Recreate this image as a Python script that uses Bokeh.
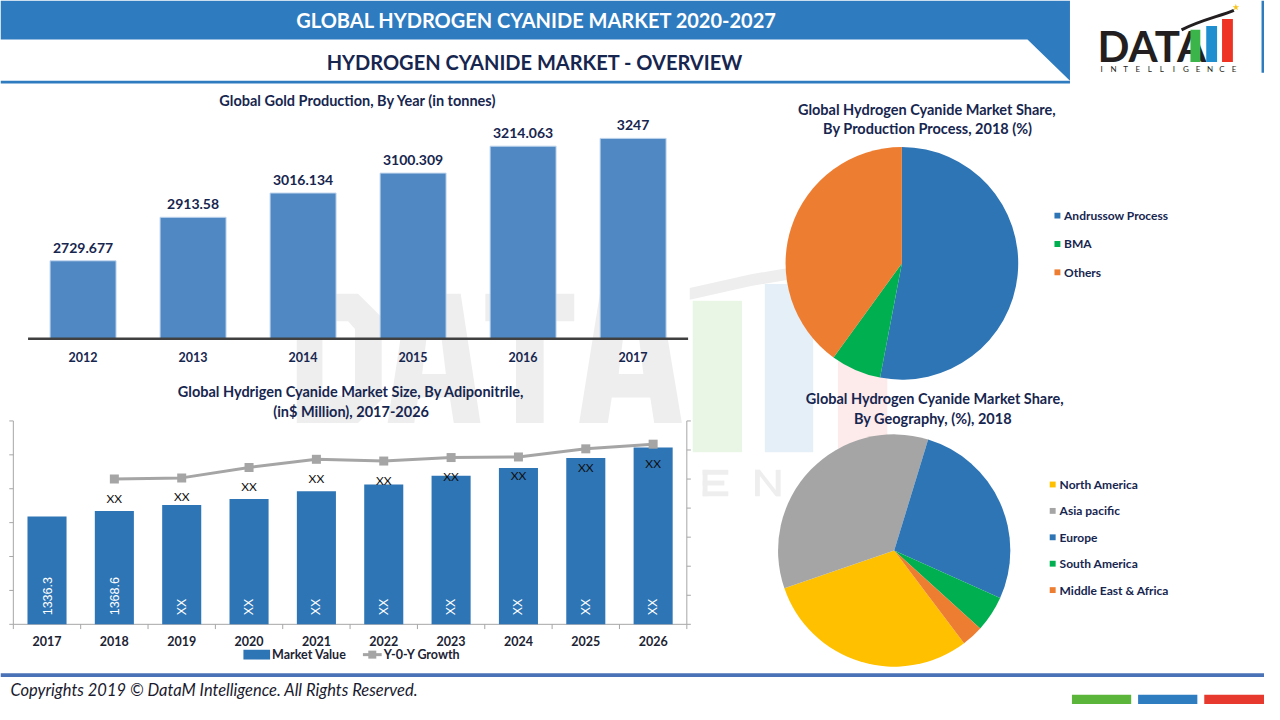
import numpy as np
from bokeh.plotting import figure
from bokeh.models import Range1d
from bokeh.core.properties import value
from bokeh.embed import file_html
from bokeh.resources import INLINE

# ---------------- DATA ----------------
gold_years = ["2012", "2013", "2014", "2015", "2016", "2017"]
gold_tonnes = [2729.677, 2913.58, 3016.134, 3100.309, 3214.063, 3247]
gold_axis_min = 2400

adn_years = ["2017", "2018", "2019", "2020", "2021", "2022", "2023", "2024", "2025", "2026"]
adn_market_value = [1336.3, 1368.6, 1404, 1439, 1485, 1525, 1577, 1623, 1681, 1744]
adn_value_labels = ["1336.3", "1368.6", "XX", "XX", "XX", "XX", "XX", "XX", "XX", "XX"]
adn_yoy_growth = [np.nan, 2.50, 2.52, 2.70, 2.84, 2.81, 2.87, 2.88, 3.02, 3.10]
adn_growth_labels = ["", "XX", "XX", "XX", "XX", "XX", "XX", "XX", "XX", "XX"]
adn_left_ticks = [700, 900, 1100, 1300, 1500, 1700, 1900]
adn_right_ticks = [0, 0.5, 1.0, 1.5, 2.0, 2.5, 3.0, 3.5]

process_names = ["Andrussow Process", "BMA", "Others"]
process_share = [53, 7, 40]
geo_names = ["North America", "Asia pacific", "Europe", "South America", "Middle East & Africa"]
geo_share = [30, 35, 27, 5, 3]

# ---------------- STYLE ----------------
FONT = value("Lato")
NAVY = "#17264f"
HEADER_BLUE = "#2e7bbf"
BAR_TOP = "#4f88c3"
BAR_BOT = "#2e75b6"
GREY_LINE = "#a5a5a5"
process_colors = ["#2e75b6", "#00b050", "#ed7d31"]
geo_colors = ["#ffc000", "#a5a5a5", "#2e75b6", "#00b050", "#ed7d31"]

W, H = 1264, 704
PX0, PX1 = 0, 1280      # reference px at left / right edge of canvas
PY0, PY1 = 720, 0       # reference px at bottom / top edge of canvas


def lin_range(v0, p0, v1, p1, pstart, pend):
    s = (v1 - v0) / (p1 - p0)
    return Range1d(start=v0 + (pstart - p0) * s, end=v0 + (pend - p0) * s)


p = figure(width=W, height=H, x_range=Range1d(PX0, PX1), y_range=Range1d(PY0, PY1),
           min_border=0, toolbar_location=None, output_backend="svg",
           x_axis_type=None, y_axis_type=None, outline_line_color=None)
p.background_fill_color = "white"
p.border_fill_color = "white"

p.extra_x_ranges = {
    "gx": lin_range(0, 83.6, 5, 640.6, PX0, PX1),
    "bx": lin_range(0, 47.1, 9, 660.9, PX0, PX1),
    "p1x": lin_range(0, 912.8, 1, 1030.6, PX0, PX1),
    "p2x": lin_range(0, 905.0, 1, 1022.6, PX0, PX1),
}
p.extra_y_ranges = {
    "gy": lin_range(gold_axis_min, 346, 3247, 141, PY0, PY1),
    "by": lin_range(700, 638, 1900, 430, PY0, PY1),
    "by2": lin_range(0, 638, 3.5, 430, PY0, PY1),
    "p1y": lin_range(0, 268.8, 1, 151.0, PY0, PY1),
    "p2y": lin_range(0, 562.5, 1, 444.9, PY0, PY1),
}

# ---------------- WATERMARK ----------------
WM = "#eeeeee"
wm_letters = [
    [(300, 300), (362, 300), (386, 324), (386, 408), (362, 432), (300, 432)],
    [(412, 300), (466, 300), (486, 432), (459, 432), (455, 406), (423, 406), (419, 432), (392, 432)],
    [(491, 300), (581, 300), (581, 328), (550, 328), (550, 432), (522, 432), (522, 328), (491, 328)],
    [(607, 300), (668, 300), (690, 432), (662, 432), (658, 406), (619, 406), (615, 432), (586, 432)],
]
for poly in wm_letters:
    p.patch([q[0] for q in poly], [q[1] for q in poly], fill_color=WM, line_color=None)
wm_holes = [
    [(326, 328), (352, 328), (359, 336), (359, 396), (352, 404), (326, 404)],
    [(433, 332), (445, 332), (451, 382), (427, 382)],
    [(632, 332), (645, 332), (651, 382), (626, 382)],
]
for poly in wm_holes:
    p.patch([q[0] for q in poly], [q[1] for q in poly], fill_color="white", line_color=None)
p.quad(left=[701, 774, 848], right=[751, 823, 898], top=[307, 290, 275], bottom=[462, 462, 462],
       fill_color=["#e9f6e6", "#e5eff8", "#fdeaea"], line_color=None)
p.patch([698, 760, 830, 880, 880, 830, 760, 698], [294, 280, 268, 262, 274, 280, 292, 306],
        fill_color=WM, line_color=None)
# faint "E N"
p.quad(left=[711, 711, 711, 711], right=[716, 737, 733, 737], top=[480, 480, 491, 502], bottom=[507, 485, 496, 507],
       fill_color=WM, line_color=None)
p.quad(left=[764, 785], right=[769, 790], top=[480, 480], bottom=[507, 507], fill_color=WM, line_color=None)
p.patch([764, 769, 790, 785], [480, 480, 507, 507], fill_color=WM, line_color=None)

# ---------------- HEADER ----------------
p.patch([0, 1083, 1083, 1040, 0], [0, 0, 82, 40, 40], fill_color=HEADER_BLUE, line_color=None)
p.quad(left=0, right=1083, top=82, bottom=85, fill_color=HEADER_BLUE, line_color=None)
p.text(x=[543], y=[20], text=["GLOBAL HYDROGEN CYANIDE MARKET 2020-2027"], text_align="center",
       text_baseline="middle", text_font=FONT, text_font_style="bold", text_font_size="20px", text_color="white")
p.text(x=[541], y=[63], text=["HYDROGEN CYANIDE MARKET - OVERVIEW"], text_align="center",
       text_baseline="middle", text_font=FONT, text_font_style="bold", text_font_size="20px", text_color=NAVY)

# logo
p.text(x=[1111], y=[47], text=["DATA"], text_align="left", text_baseline="middle", text_font=FONT,
       text_font_style="bold", text_font_size="42px", text_color="#231f20")
p.quad(left=[1205, 1221, 1237], right=[1215, 1232, 1248], top=[30, 26, 19], bottom=[63, 63, 63],
       fill_color=["#3bb54a", "#1f8fd0", "#ee3324"], line_color=None)
p.bezier(x0=[1196], y0=[30], x1=[1249], y1=[10], cx0=[1215], cy0=[20], cx1=[1235], cy1=[16],
         line_color="#231f20", line_width=3)
p.scatter(x=[1251], y=[7], marker="star", size=7, fill_color="#f7c21b", line_color=None)
logo_word = "INTELLIGENCE"
p.text(x=list(1115 + 12.2 * np.arange(len(logo_word))), y=[70] * len(logo_word), text=list(logo_word),
       text_align="center", text_baseline="middle", text_font=FONT, text_font_size="8px", text_color="#231f20")
p.quad(left=1277, right=1280, top=0, bottom=74, fill_color=HEADER_BLUE, line_color=None)

# ---------------- FOOTER ----------------
p.quad(left=0, right=1280, top=688, bottom=692, fill_color="#4a72b6", line_color=None)
p.text(x=[10], y=[705], text=["Copyrights 2019 \u00a9 DataM Intelligence. All Rights Reserved."], text_align="left",
       text_baseline="middle", text_font=FONT, text_font_style="italic", text_font_size="16.5px", text_color="#1a1a2e")
p.quad(left=[1085, 1152, 1219], right=[1145, 1212, 1280], top=[710, 710, 710], bottom=[720, 720, 720],
       fill_color=["#5bb53b", "#2e7dc0", "#e8392f"], line_color=None)

# ---------------- TOP BAR CHART ----------------
gx = np.arange(len(gold_years))
p.text(x=[362], y=[102], text=["Global Gold Production, By Year (in tonnes)"], text_align="center",
       text_baseline="middle", text_font=FONT, text_font_style="bold", text_font_size="14.5px", text_color=NAVY)
p.vbar(x=gx, top=gold_tonnes, bottom=gold_axis_min, width=0.6, fill_color=BAR_TOP, line_color="#c3d7ee",
       line_width=1, x_range_name="gx", y_range_name="gy")
p.segment(x0=[-0.5], y0=[gold_axis_min], x1=[len(gold_years) - 0.5], y1=[gold_axis_min], line_color="#404040",
          line_width=2.5, x_range_name="gx", y_range_name="gy")
p.text(x=gx, y=gold_tonnes, text=[str(v) for v in gold_tonnes], y_offset=-13, text_align="center",
       text_baseline="middle", text_font=FONT, text_font_style="bold", text_font_size="14px", text_color=NAVY,
       x_range_name="gx", y_range_name="gy")
p.text(x=gx, y=[gold_axis_min] * len(gx), text=gold_years, y_offset=18, text_align="center",
       text_baseline="middle", text_font=FONT, text_font_style="bold", text_font_size="12.5px", text_color=NAVY,
       x_range_name="gx", y_range_name="gy")

# ---------------- BOTTOM COMBO CHART ----------------
bx = np.arange(len(adn_years))
nb = len(adn_years)
p.text(x=[355, 355], y=[400, 420], text=["Global Hydrigen Cyanide Market Size, By Adiponitrile,",
                                         "(in$ Million), 2017-2026"], text_align="center", text_baseline="middle",
       text_font=FONT, text_font_style="bold", text_font_size="14.5px", text_color=NAVY)
AX = "#a6a6a6"
ymin, ymax = adn_left_ticks[0], adn_left_ticks[-1]
p.segment(x0=[-0.5, nb - 0.5, -0.5], y0=[ymin, ymin, ymin], x1=[-0.5, nb - 0.5, nb - 0.5], y1=[ymax, ymax, ymin],
          line_color=AX, line_width=1, x_range_name="bx", y_range_name="by")
tk = 0.06
p.segment(x0=[-0.5 - tk] * len(adn_left_ticks), y0=adn_left_ticks, x1=[-0.5] * len(adn_left_ticks),
          y1=adn_left_ticks, line_color=AX, x_range_name="bx", y_range_name="by")
p.segment(x0=[nb - 0.5] * len(adn_right_ticks), y0=adn_right_ticks, x1=[nb - 0.5 + tk] * len(adn_right_ticks),
          y1=adn_right_ticks, line_color=AX, x_range_name="bx", y_range_name="by2")
bounds = np.arange(nb + 1) - 0.5
p.segment(x0=bounds, y0=[ymin] * len(bounds), x1=bounds, y1=[ymin - 28] * len(bounds), line_color=AX,
          x_range_name="bx", y_range_name="by")
p.vbar(x=bx, top=adn_market_value, bottom=ymin, width=0.58, fill_color=BAR_BOT, line_color=None,
       x_range_name="bx", y_range_name="by")
p.text(x=bx, y=[ymin] * nb, text=adn_value_labels, angle=np.pi / 2, y_offset=-9, text_align="left",
       text_baseline="middle", text_font=value("Liberation Sans"), text_font_size="12.5px", text_color="white",
       x_range_name="bx", y_range_name="by")
p.line(x=bx, y=adn_yoy_growth, line_color=GREY_LINE, line_width=3, x_range_name="bx", y_range_name="by2")
p.scatter(x=bx, y=adn_yoy_growth, marker="square", size=9, fill_color=GREY_LINE, line_color=None,
          x_range_name="bx", y_range_name="by2")
p.text(x=bx, y=adn_yoy_growth, text=adn_growth_labels, y_offset=19, text_align="center", text_baseline="middle",
       text_font=FONT, text_font_size="12px", text_color="#111111", x_range_name="bx", y_range_name="by2")
p.text(x=bx, y=[ymin] * nb, text=adn_years, y_offset=17, text_align="center", text_baseline="middle",
       text_font=FONT, text_font_style="bold", text_font_size="12.5px", text_color="#1c2333",
       x_range_name="bx", y_range_name="by")
# legend
p.quad(left=[246], right=[273], top=[664], bottom=[674], fill_color=BAR_BOT, line_color=None)
p.text(x=[275], y=[669], text=["Market Value"], text_align="left", text_baseline="middle", text_font=FONT,
       text_font_style="bold", text_font_size="12.5px", text_color="#1c2333")
p.segment(x0=[367], y0=[669], x1=[386], y1=[669], line_color=GREY_LINE, line_width=3)
p.scatter(x=[376.5], y=[669], marker="square", size=8, fill_color=GREY_LINE, line_color=None)
p.text(x=[388], y=[669], text=["Y-0-Y Growth"], text_align="left", text_baseline="middle", text_font=FONT,
       text_font_style="bold", text_font_size="12.5px", text_color="#1c2333")


# ---------------- PIES ----------------
def pie_angles(shares, first_deg):
    sh = np.asarray(shares, dtype=float)
    frac = sh / sh.sum()
    cum = np.concatenate([[0.0], np.cumsum(frac)[:-1]])
    a = first_deg + 360 * cum          # clockwise from 12 o'clock
    b = a + 360 * frac
    return np.radians(90 - b), np.radians(90 - a)


s1, e1 = pie_angles(process_share, 0)
p.wedge(x=0, y=0, radius=1, start_angle=s1, end_angle=e1, fill_color=process_colors, line_color=None,
        x_range_name="p1x", y_range_name="p1y")
s2, e2 = pie_angles(geo_share, 143)
p.wedge(x=0, y=0, radius=1, start_angle=s2, end_angle=e2, fill_color=geo_colors, line_color=None,
        x_range_name="p2x", y_range_name="p2y")

p.text(x=[938, 939], y=[111, 131], text=["Global Hydrogen Cyanide Market Share,",
                                         "By Production Process, 2018 (%)"], text_align="center",
       text_baseline="middle", text_font=FONT, text_font_style="bold", text_font_size="14.5px", text_color=NAVY)
p.text(x=[946, 946], y=[407, 427], text=["Global Hydrogen Cyanide Market Share,",
                                         "By Geography, (%),  2018"], text_align="center",
       text_baseline="middle", text_font=FONT, text_font_style="bold", text_font_size="14.5px", text_color=NAVY)

leg1_y = [220, 249, 278]
p.rect(x=[1070.3] * 3, y=leg1_y, width=6, height=6, fill_color=process_colors, line_color=None)
p.text(x=[1077] * 3, y=leg1_y, text=process_names, text_align="left", text_baseline="middle", text_font=FONT,
       text_font_style="bold", text_font_size="12px", text_color=NAVY)
leg2_y = [495, 522, 549, 576, 603]
p.rect(x=[1065.5] * 5, y=leg2_y, width=6, height=6, fill_color=geo_colors, line_color=None)
p.text(x=[1072.5] * 5, y=leg2_y, text=geo_names, text_align="left", text_baseline="middle", text_font=FONT,
       text_font_style="bold", text_font_size="12px", text_color=NAVY)

open("out.html", "w").write(file_html(p, INLINE))
